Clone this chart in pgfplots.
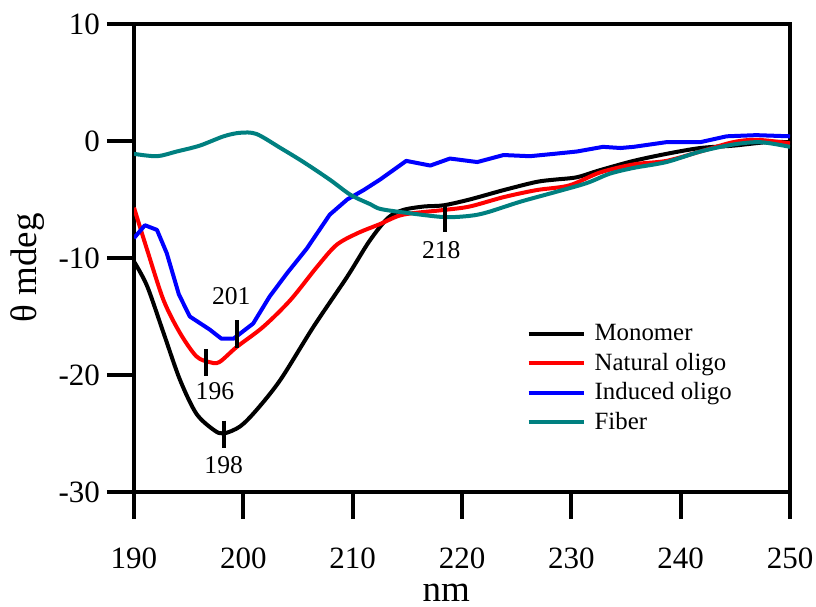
\documentclass[border=0pt]{standalone}
\usepackage{pgfplots}
\pgfplotsset{compat=1.18}
\usepackage{fontspec}
\setmainfont{Liberation Serif}

\definecolor{fiber}{RGB}{0,128,128}

\begin{document}
\begin{tikzpicture}
\begin{axis}[
  name=ax,
  scale only axis,
  width=328pt, height=234pt,
  xmin=190, xmax=250, ymin=-30, ymax=10,
  xtick={190,200,...,250}, ytick={-30,-20,-10,0,10},
  xtick pos=bottom, ytick pos=left,
  tick align=outside,
  major tick length=13.5pt,
  axis line style={line width=2pt},
  every tick/.style={black, line width=2pt},
  /pgf/number format/assume math mode=true,
  ticklabel style={font=\fontsize{15.5}{18}\selectfont},
  xticklabel shift=11pt,
  xlabel={nm}, ylabel={θ mdeg},
  label style={font=\fontsize{18.5}{21}\selectfont},
  xlabel style={at={(rel axis cs:0.476,-0.235)}, anchor=base},
  ylabel style={at={(rel axis cs:-0.148,0.479)}, anchor=base, rotate=0},
  legend style={draw=none, fill=none, at={(rel axis cs:0.598,0.367)}, anchor=north west,
    font=\fontsize{12.4}{14}\selectfont, row sep=0.6pt, inner sep=0pt,
    nodes={inner xsep=4.5pt}},
  legend cell align=left,
  legend image code/.code={\draw[#1, line width=2pt] (0pt,0pt) -- (27.5pt,0pt);},
  every axis plot/.append style={line width=2pt, line join=round},
]
% Monomer
\addplot[black, smooth] coordinates {
(190,-10.3) (191.2,-12.4) (192.7,-16.4) (194.2,-20.4) (195.7,-23.3) (197.3,-24.7)
(198.2,-25.0) (199.7,-24.4) (201.2,-23.0) (203.4,-20.4) (206.4,-15.9) (209.5,-11.6)
(211.5,-8.6) (213.2,-6.6) (214.6,-5.9) (216.5,-5.6) (218.3,-5.5) (220.7,-5.0) (223.8,-4.2)
(226.8,-3.5) (228.5,-3.3) (230.5,-3.1) (232.6,-2.5) (235.7,-1.7) (238.7,-1.1)
(241.8,-0.6) (244.8,-0.4) (247.9,-0.1) (250,-0.1)};
% Natural oligo
\addplot[red, smooth] coordinates {
(190,-5.7) (191.2,-9.3) (192.7,-13.6) (194.2,-16.4) (195.7,-18.4) (196.9,-18.9)
(197.8,-18.9) (199.4,-17.6) (201.8,-15.9) (204.3,-13.6) (206.7,-10.8) (208.5,-8.9)
(210.4,-7.9) (212.5,-7.1) (214.6,-6.3) (218.3,-5.9) (220.7,-5.6) (223.8,-4.8)
(226.8,-4.2) (229.8,-3.8) (232.6,-2.7) (235.7,-2.0) (238.7,-1.7) (241.8,-0.9)
(244.8,-0.1) (247,0.1) (250,-0.2)};
% Induced oligo
\addplot[blue] coordinates {
(190,-8.3) (191,-7.2) (192.1,-7.6) (193,-9.6) (194.1,-13.1) (195.1,-15.0)
(196.9,-16.1) (198,-16.9) (199.1,-16.9) (200.9,-15.6) (202.4,-13.3) (204,-11.3)
(205.8,-9.2) (207.9,-6.3) (209.5,-5.0) (211,-4.2) (212.5,-3.3) (213.1,-2.9)
(214.9,-1.7) (217.1,-2.1) (218.9,-1.5) (221.4,-1.8) (223.8,-1.2) (226.2,-1.3)
(228.4,-1.1) (230.5,-0.9) (232.9,-0.5) (234.5,-0.6) (235.7,-0.5) (238.7,-0.1)
(241.8,-0.1) (244.2,0.4) (246.9,0.5) (250,0.4)};
% Fiber
\addplot[fiber, smooth] coordinates {
(190,-1.1) (192.1,-1.3) (193.9,-0.9) (196,-0.4) (198.2,0.4) (199.7,0.7)
(201.2,0.6) (203.4,-0.6) (205.5,-1.8) (207.9,-3.3) (209.8,-4.6) (211.6,-5.4)
(212.5,-5.8) (214.6,-6.1) (218.3,-6.5) (220.7,-6.4) (222.3,-6.1) (225.3,-5.2)
(228.4,-4.4) (231.4,-3.6) (233.5,-2.8) (235.7,-2.3) (238.7,-1.8) (241.8,-0.9)
(244.8,-0.3) (247.3,-0.1) (250,-0.5)};
\legend{Monomer, Natural oligo, Induced oligo, Fiber}

% peak markers
\draw[black, line width=2pt] (axis cs:198.2,-23.9) -- (axis cs:198.2,-26.2);
\draw[black, line width=2pt] (axis cs:196.6,-17.8) -- (axis cs:196.6,-20.1);
\draw[black, line width=2pt] (axis cs:199.4,-15.3) -- (axis cs:199.4,-17.7);
\draw[black, line width=2pt] (axis cs:218.4,-5.4) -- (axis cs:218.4,-7.8);
\node[font=\fontsize{12.8}{15}\selectfont] at (axis cs:198.2,-27.7) {198};
\node[font=\fontsize{12.8}{15}\selectfont] at (axis cs:197.4,-21.4) {196};
\node[font=\fontsize{12.8}{15}\selectfont] at (axis cs:198.9,-13.3) {201};
\node[font=\fontsize{12.8}{15}\selectfont] at (axis cs:218.1,-9.3) {218};
\end{axis}
\pgfresetboundingbox
\path[use as bounding box] ([xshift=-67pt,yshift=-57.5pt]ax.south west) rectangle ([xshift=13pt,yshift=12pt]ax.north east);
\end{tikzpicture}
\end{document}
